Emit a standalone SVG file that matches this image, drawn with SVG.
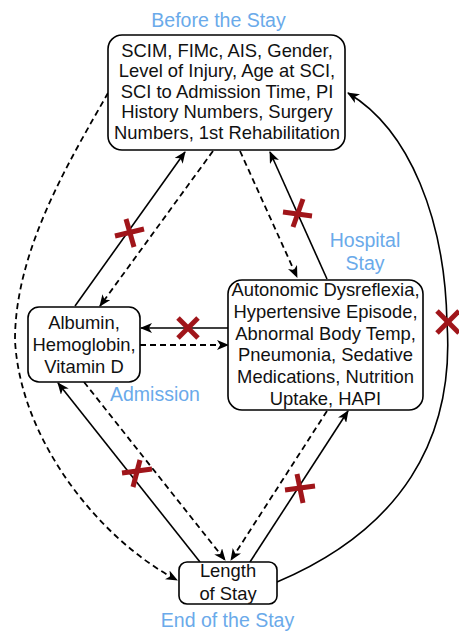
<svg xmlns="http://www.w3.org/2000/svg" width="459" height="631" viewBox="0 0 459 631">
  <defs>
    <marker id="arrow" viewBox="0 0 12 10" refX="11" refY="5" markerWidth="12" markerHeight="10" markerUnits="userSpaceOnUse" orient="auto">
      <path d="M0,0 L12,5 L0,10 L3.2,5 Z" fill="#000"/>
    </marker>
    <style>
      .box { fill: #fff; stroke: #000; stroke-width: 1.6; }
      .txt { font-family: "Liberation Sans", Arial, sans-serif; font-size: 18.4px; fill: #111; text-anchor: middle; }
      .lbl { font-family: "Liberation Sans", Arial, sans-serif; font-size: 19.5px; fill: #6aaaea; text-anchor: middle; }
      .solid { fill: none; stroke: #000; stroke-width: 1.6; marker-end: url(#arrow); }
      .dash { fill: none; stroke: #000; stroke-width: 1.8; stroke-dasharray: 6 4; marker-end: url(#arrow); }
      .cut { stroke: #a0151a; stroke-width: 5; stroke-linecap: butt; }
    </style>
  </defs>

  <!-- phase labels -->
  <g id="labels">
    <text class="lbl" x="218.5" y="27">Before the Stay</text>
    <text class="lbl" x="365" y="246.5">Hospital</text>
    <text class="lbl" x="365" y="270">Stay</text>
    <text class="lbl" x="155" y="401">Admission</text>
    <text class="lbl" x="227.5" y="627">End of the Stay</text>
  </g>

  <!-- connectors -->
  <g id="connectors">
    <path class="solid" d="M75,306 L185,152"/>
    <path class="dash" d="M213,151 L100,306"/>
    <path class="dash" d="M240,151 L297,277"/>
    <path class="solid" d="M327,279 L270,152"/>
    <path class="solid" d="M228,328 L141,328"/>
    <path class="dash" d="M140,345 L228,345"/>
    <path class="solid" d="M200,562 L58,383"/>
    <path class="dash" d="M84,382 L225,560"/>
    <path class="dash" d="M327,411 L231,560"/>
    <path class="solid" d="M250,562 L348,411"/>
    <path class="dash" d="M108,93 C70,160 15,250 15,340 C20,440 100,540 177,580"/>
    <path class="solid" d="M277,582 C400,530 455,440 447,323 C445,220 410,130 348,93"/>
  </g>

  <!-- blocked-link marks -->
  <g id="cuts">
    <line class="cut" x1="115" y1="236" x2="144" y2="229"/>
    <line class="cut" x1="126" y1="219" x2="134" y2="247"/>
    <line class="cut" x1="178" y1="318" x2="198" y2="338"/>
    <line class="cut" x1="198" y1="318" x2="178" y2="338"/>
    <line class="cut" x1="283" y1="212" x2="312" y2="216"/>
    <line class="cut" x1="303" y1="199" x2="293" y2="227"/>
    <line class="cut" x1="437" y1="311" x2="459" y2="333"/>
    <line class="cut" x1="459" y1="311" x2="437" y2="333"/>
    <line class="cut" x1="122" y1="473" x2="152" y2="469"/>
    <line class="cut" x1="140" y1="460" x2="133" y2="487"/>
    <line class="cut" x1="285" y1="490" x2="315" y2="486"/>
    <line class="cut" x1="297" y1="474" x2="303" y2="503"/>
  </g>

  <g id="before">
    <rect class="box" x="108" y="35" width="237" height="115" rx="14"/>
    <text class="txt" x="227" y="56.5">SCIM, FIMc, AIS, Gender,</text>
    <text class="txt" x="227" y="77">Level of Injury, Age at SCI,</text>
    <text class="txt" x="227" y="97.5">SCI to Admission Time, PI</text>
    <text class="txt" x="227" y="118">History Numbers, Surgery</text>
    <text class="txt" x="227" y="138.5">Numbers, 1st Rehabilitation</text>
  </g>

  <g id="admission">
    <rect class="box" x="28" y="307" width="112" height="75" rx="11"/>
    <text class="txt" x="84" y="329">Albumin,</text>
    <text class="txt" x="84" y="351">Hemoglobin,</text>
    <text class="txt" x="84" y="373">Vitamin D</text>
  </g>

  <g id="hospital">
    <rect class="box" x="228" y="280" width="195" height="130" rx="14"/>
    <text class="txt" x="325.5" y="296">Autonomic Dysreflexia,</text>
    <text class="txt" x="325.5" y="317.8">Hypertensive Episode,</text>
    <text class="txt" x="325.5" y="339.6">Abnormal Body Temp,</text>
    <text class="txt" x="325.5" y="361.4">Pneumonia, Sedative</text>
    <text class="txt" x="325.5" y="383.2">Medications, Nutrition</text>
    <text class="txt" x="325.5" y="405">Uptake, HAPI</text>
  </g>

  <g id="end">
    <rect class="box" x="179" y="562" width="98" height="42" rx="8"/>
    <text class="txt" x="228" y="577">Length</text>
    <text class="txt" x="228" y="600">of Stay</text>
  </g>
</svg>
